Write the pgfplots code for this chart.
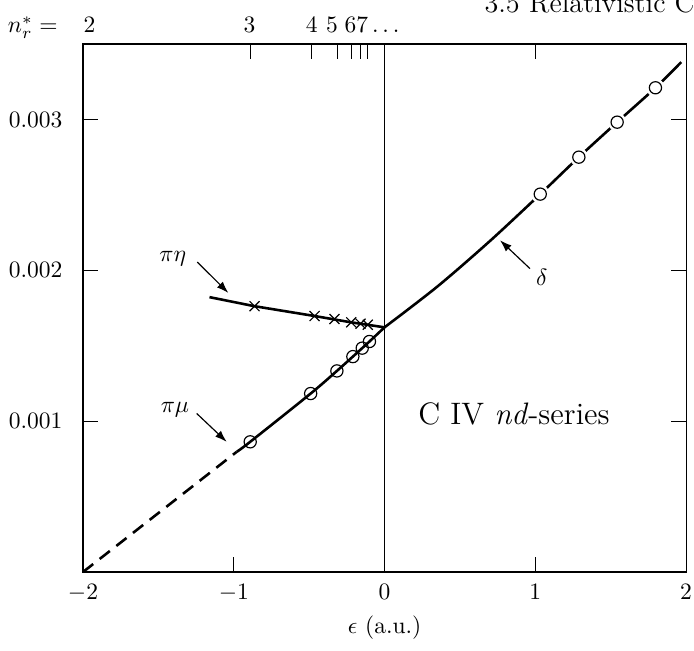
\documentclass[border=0pt]{standalone}
\usepackage{pgfplots}
\pgfplotsset{compat=1.18}
\usetikzlibrary{arrows.meta}
\begin{document}
\begin{tikzpicture}
\path[use as bounding box] (-35.32pt,-33.19pt) rectangle (259.98pt,243.39pt);
\begin{axis}[
  scale only axis,
  width=256.6pt, height=224.66pt,
  xmin=-2, xmax=2, ymin=0, ymax=0.0035,
  clip=false,
  scaled y ticks=false,
  axis line style={line width=0.45pt},
  every tick/.style={line width=0.45pt, black},
  tick align=inside,
  major tick length=6.4pt,
  xtick={-2,-1,0,1,2},
  xticklabels={$-2$,$-1$,$0$,$1$,$2$},
  xtick pos=left,
  ytick={0.001,0.002,0.003},
  yticklabels={0.001,0.002,0.003},
  ytick pos=both,
  yticklabel pos=left,
  xticklabel style={anchor=base, yshift=-11.5pt},
  yticklabel style={xshift=-5.2pt},
  xlabel={$\epsilon$ (a.u.)},
  xlabel style={at={(axis description cs:0.5,0)}, anchor=center, yshift=-23.8pt},
]
% vertical line at zero and top n* ticks
\draw[line width=0.45pt] (axis cs:0,0) -- (axis cs:0,0.0035);
\draw[line width=0.45pt] (rel axis cs:0.27775,1) -- (rel axis cs:0.27775,0.9715);
\draw[line width=0.45pt] (rel axis cs:0.37875,1) -- (rel axis cs:0.37875,0.9715);
\draw[line width=0.45pt] (rel axis cs:0.42125,1) -- (rel axis cs:0.42125,0.9715);
\draw[line width=0.45pt] (rel axis cs:0.44600,1) -- (rel axis cs:0.44600,0.9715);
\draw[line width=0.45pt] (rel axis cs:0.46075,1) -- (rel axis cs:0.46075,0.9715);
\draw[line width=0.45pt] (rel axis cs:0.47250,1) -- (rel axis cs:0.47250,0.9715);
\draw[line width=0.45pt] (rel axis cs:0.75,1) -- (rel axis cs:0.75,0.9715);

% pi mu: dashed extrapolation
\addplot[line width=1.1pt, dash pattern=on 5.5pt off 3.5pt] coordinates {(-2,0) (-0.98,0.000797)};
% pi mu: solid
\addplot[line width=1.1pt, smooth] coordinates {
 (-0.98,0.000797) (-0.891,0.000863) (-0.49,0.001183) (-0.316,0.001333)
 (-0.21,0.001428) (-0.1,0.001528) (0,0.001622)};
\addplot[only marks, mark=o, mark size=2.6pt, mark options={line width=0.5pt}] coordinates {
 (-0.891,0.000863) (-0.49,0.001183) (-0.316,0.001333)
 (-0.21,0.001428) (-0.148,0.001484) (-0.1,0.001528)};

% pi eta
\addplot[line width=1.1pt] coordinates {
 (-1.161,0.001822) (-0.862,0.001762) (-0.464,0.001697) (-0.221,0.001655) (0,0.001622)};
\addplot[only marks, mark=x, mark size=3pt, mark options={line width=0.5pt}] coordinates {
 (-0.862,0.001762) (-0.464,0.001697) (-0.332,0.001677)
 (-0.221,0.001655) (-0.159,0.001646) (-0.111,0.001639)};

% delta
\addplot[line width=1.1pt, smooth] coordinates {
 (0,0.001622) (0.35,0.001892) (0.7,0.002195)
 (1.033,0.002505) (1.289,0.002750) (1.543,0.002982) (1.797,0.003210) (1.968,0.003380)};
\addplot[only marks, mark=*, mark size=3.7pt, mark options={fill=white, draw=white}] coordinates {
 (1.033,0.002505) (1.289,0.002750) (1.543,0.002982) (1.797,0.003210)};
\addplot[only marks, mark=*, mark size=2.6pt, mark options={fill=white, draw=black, line width=0.5pt}] coordinates {
 (1.033,0.002505) (1.289,0.002750) (1.543,0.002982) (1.797,0.003210)};

% labels and arrows
\node at (axis cs:-1.405,0.002077) {$\pi\eta$};
\draw[line width=0.5pt, -{Latex[length=5pt,width=3.5pt]}] (axis cs:-1.242,0.002055) -- (axis cs:-1.036,0.001850);
\node at (axis cs:-1.390,0.001077) {$\pi\mu$};
\draw[line width=0.5pt, -{Latex[length=5pt,width=3.5pt]}] (axis cs:-1.246,0.001051) -- (axis cs:-1.047,0.000863);
\node at (axis cs:1.043,0.001956) {$\delta$};
\draw[line width=0.5pt, -{Latex[length=5pt,width=3.5pt]}] (axis cs:0.965,0.002011) -- (axis cs:0.766,0.002199);
\node[font=\fontsize{13.2}{16}\selectfont] at (axis cs:0.859,0.001046) {C IV \textit{nd}-series};

% top n* labels
\node[anchor=base] at (axis cs:-2.333,0.003576) {$n_r^* =$};
\node[anchor=base] at (axis cs:-1.957,0.003576) {2};
\node[anchor=base] at (axis cs:-0.895,0.003576) {3};
\node[anchor=base] at (axis cs:-0.482,0.003576) {4};
\node[anchor=base] at (axis cs:-0.348,0.003576) {5};
\node[anchor=base west, inner sep=0pt] at (axis cs:-0.268,0.003576) {$67\ldots$};

% running header
\node[anchor=base west, inner sep=0pt, font=\large] at (axis cs:0.660,0.003709) {3.5\hspace{4pt}Relativistic Corrections};
\end{axis}
\end{tikzpicture}
\end{document}
